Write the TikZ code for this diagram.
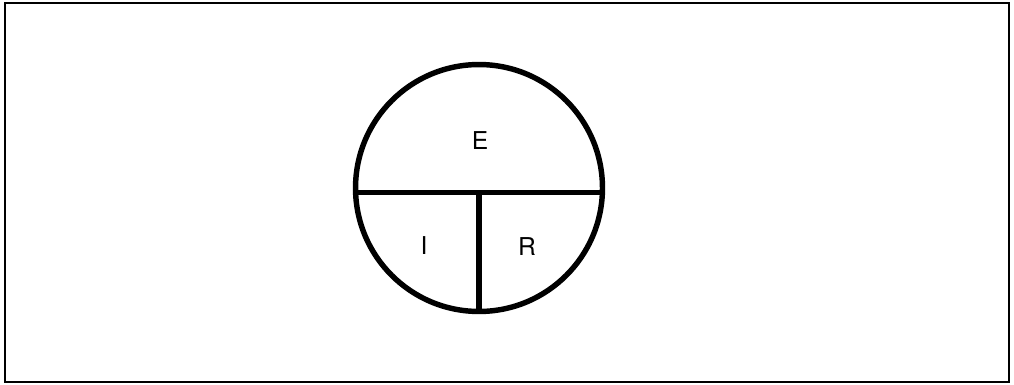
\documentclass[tikz,border=0pt]{standalone}
\usepackage{fontspec}
\setmainfont{TeX Gyre Heros}
\usetikzlibrary{positioning,calc}

\begin{document}
\begin{tikzpicture}[
  x=0.02cm, y=-0.02cm,
  frame/.style={draw=black, line width=1.2pt},
  ring/.style={circle, draw=black, line width=3.1pt, minimum size=4.94cm, inner sep=0pt},
  split/.style={draw=black, line width=2.9pt},
  lbl/.style={font=\fontsize{14}{16}\selectfont, inner sep=1pt},
]
\useasboundingbox (0,0) rectangle (1014,385);
% outer frame
\draw[frame] (5,3) rectangle (1009,382);
% circle
\node[ring] (ring) at (479,188) {};
% splits
\draw[split] (ring.182) -- (ring.-2);
\coordinate (mid) at ($(ring.182)!0.5!(ring.-2)$);
\draw[split] (mid) -- (ring.south);
% labels
\node[lbl] (e) at (480,141) {E};
\node[lbl] (i) at (424,246) {I};
\node[lbl] (r) at (527,247) {R};
\end{tikzpicture}
\end{document}
